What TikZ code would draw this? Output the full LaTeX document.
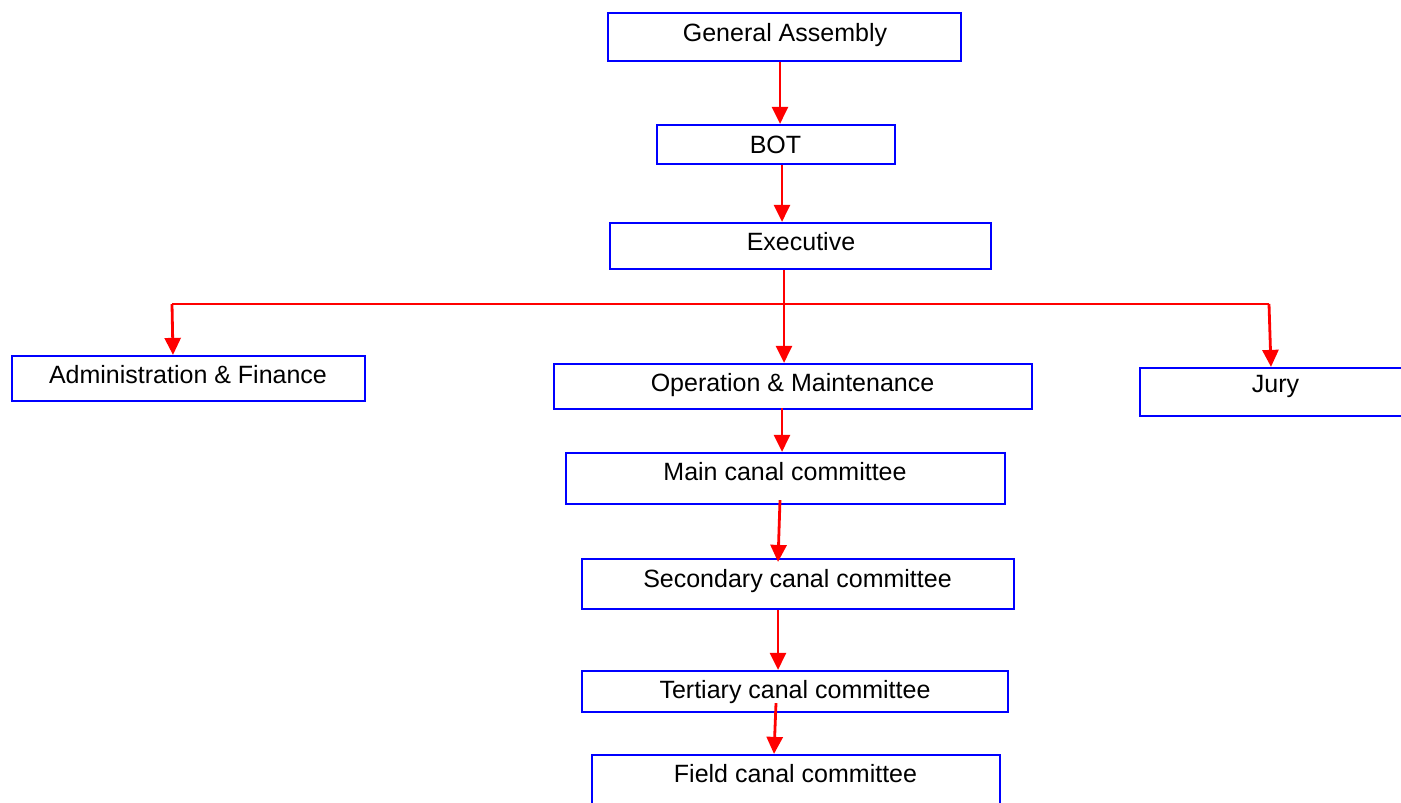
\documentclass[tikz,border=0pt]{standalone}
\usepackage{fontspec}
\setmainfont{Liberation Sans}
\usetikzlibrary{arrows.meta}
\tikzset{
  box/.style={draw={rgb,255:red,0;green,0;blue,255}, line width=2.2pt, inner sep=0pt},
  lab/.style={anchor=base, inner sep=0pt, font=\fontsize{25}{30}\selectfont},
  arr/.style={draw={rgb,255:red,255;green,0;blue,0}, line width=2.8pt, -{Triangle[length=17pt,width=16pt]}},
  hline/.style={draw={rgb,255:red,255;green,0;blue,0}, line width=1.6pt}
}
\begin{document}
\begin{tikzpicture}[x=1pt,y=-1pt]
\useasboundingbox (0,0) rectangle (1401,803);
% boxes
\node[box, minimum width=353pt, minimum height=48pt] (ga) at (784.5,37) {};
\node[box, minimum width=238pt, minimum height=39pt] (bot) at (776,144.5) {};
\node[box, minimum width=381pt, minimum height=46pt] (ex) at (800.5,246) {};
\node[box, minimum width=353pt, minimum height=45pt] (adm) at (188.5,378.5) {};
\node[box, minimum width=478pt, minimum height=45pt] (om) at (793,386.5) {};
\node[box, minimum width=270pt, minimum height=48pt] (jury) at (1275,392) {};
\node[box, minimum width=439pt, minimum height=51pt] (main) at (785.5,478.5) {};
\node[box, minimum width=432pt, minimum height=50pt] (sec) at (798,584) {};
\node[box, minimum width=426pt, minimum height=41pt] (ter) at (795,691.5) {};
\node[box, minimum width=408pt, minimum height=70pt] (fld) at (796,790) {};
% labels
\node[lab] (ga-t) at (785,41) {General Assembly};
\node[lab] (bot-t) at (775.5,153) {BOT};
\node[lab] (ex-t) at (801,250) {Executive};
\node[lab] (adm-t) at (188,383) {Administration \& Finance};
\node[lab] (om-t) at (792.5,391) {Operation \& Maintenance};
\node[lab] (jury-t) at (1275.5,392) {Jury};
\node[lab] (main-t) at (785,480) {Main canal committee};
\node[lab] (sec-t) at (797.5,587) {Secondary canal committee};
\node[lab] (ter-t) at (795,698) {Tertiary canal committee};
\node[lab] (fld-t) at (795.5,782) {Field canal committee};
% connectors
\coordinate (jl) at (172,304);
\coordinate (jr) at (1269,304);
\coordinate (jm) at (784,304);
\draw[arr] ([xshift=-4.5pt]ga.south) -- ([xshift=4pt]bot.north);
\draw[arr] ([xshift=6pt]bot.south) -- ([xshift=-18.5pt]ex.north);
\draw[hline] (jl) -- (jr);
\draw[arr] ([xshift=-16.5pt]ex.south) -- (jm) -- ([xshift=-9pt]om.north);
\draw[arr] (jl) -- ([xshift=-15.5pt]adm.north);
\draw[arr] (jr) -- ([xshift=-4pt]jury.north);
\draw[arr] ([xshift=-11pt,yshift=2pt]om.south) -- ([xshift=-3.5pt]main.north);
\draw[arr] ([xshift=-5.5pt,yshift=5pt]main.south) -- ([xshift=-20pt,yshift=-4pt]sec.north);
\draw[arr] ([xshift=-20pt]sec.south) -- ([xshift=-17pt]ter.north);
\draw[arr] ([xshift=-19pt,yshift=10pt]ter.south) -- ([xshift=-22pt]fld.north);
\end{tikzpicture}
\end{document}
